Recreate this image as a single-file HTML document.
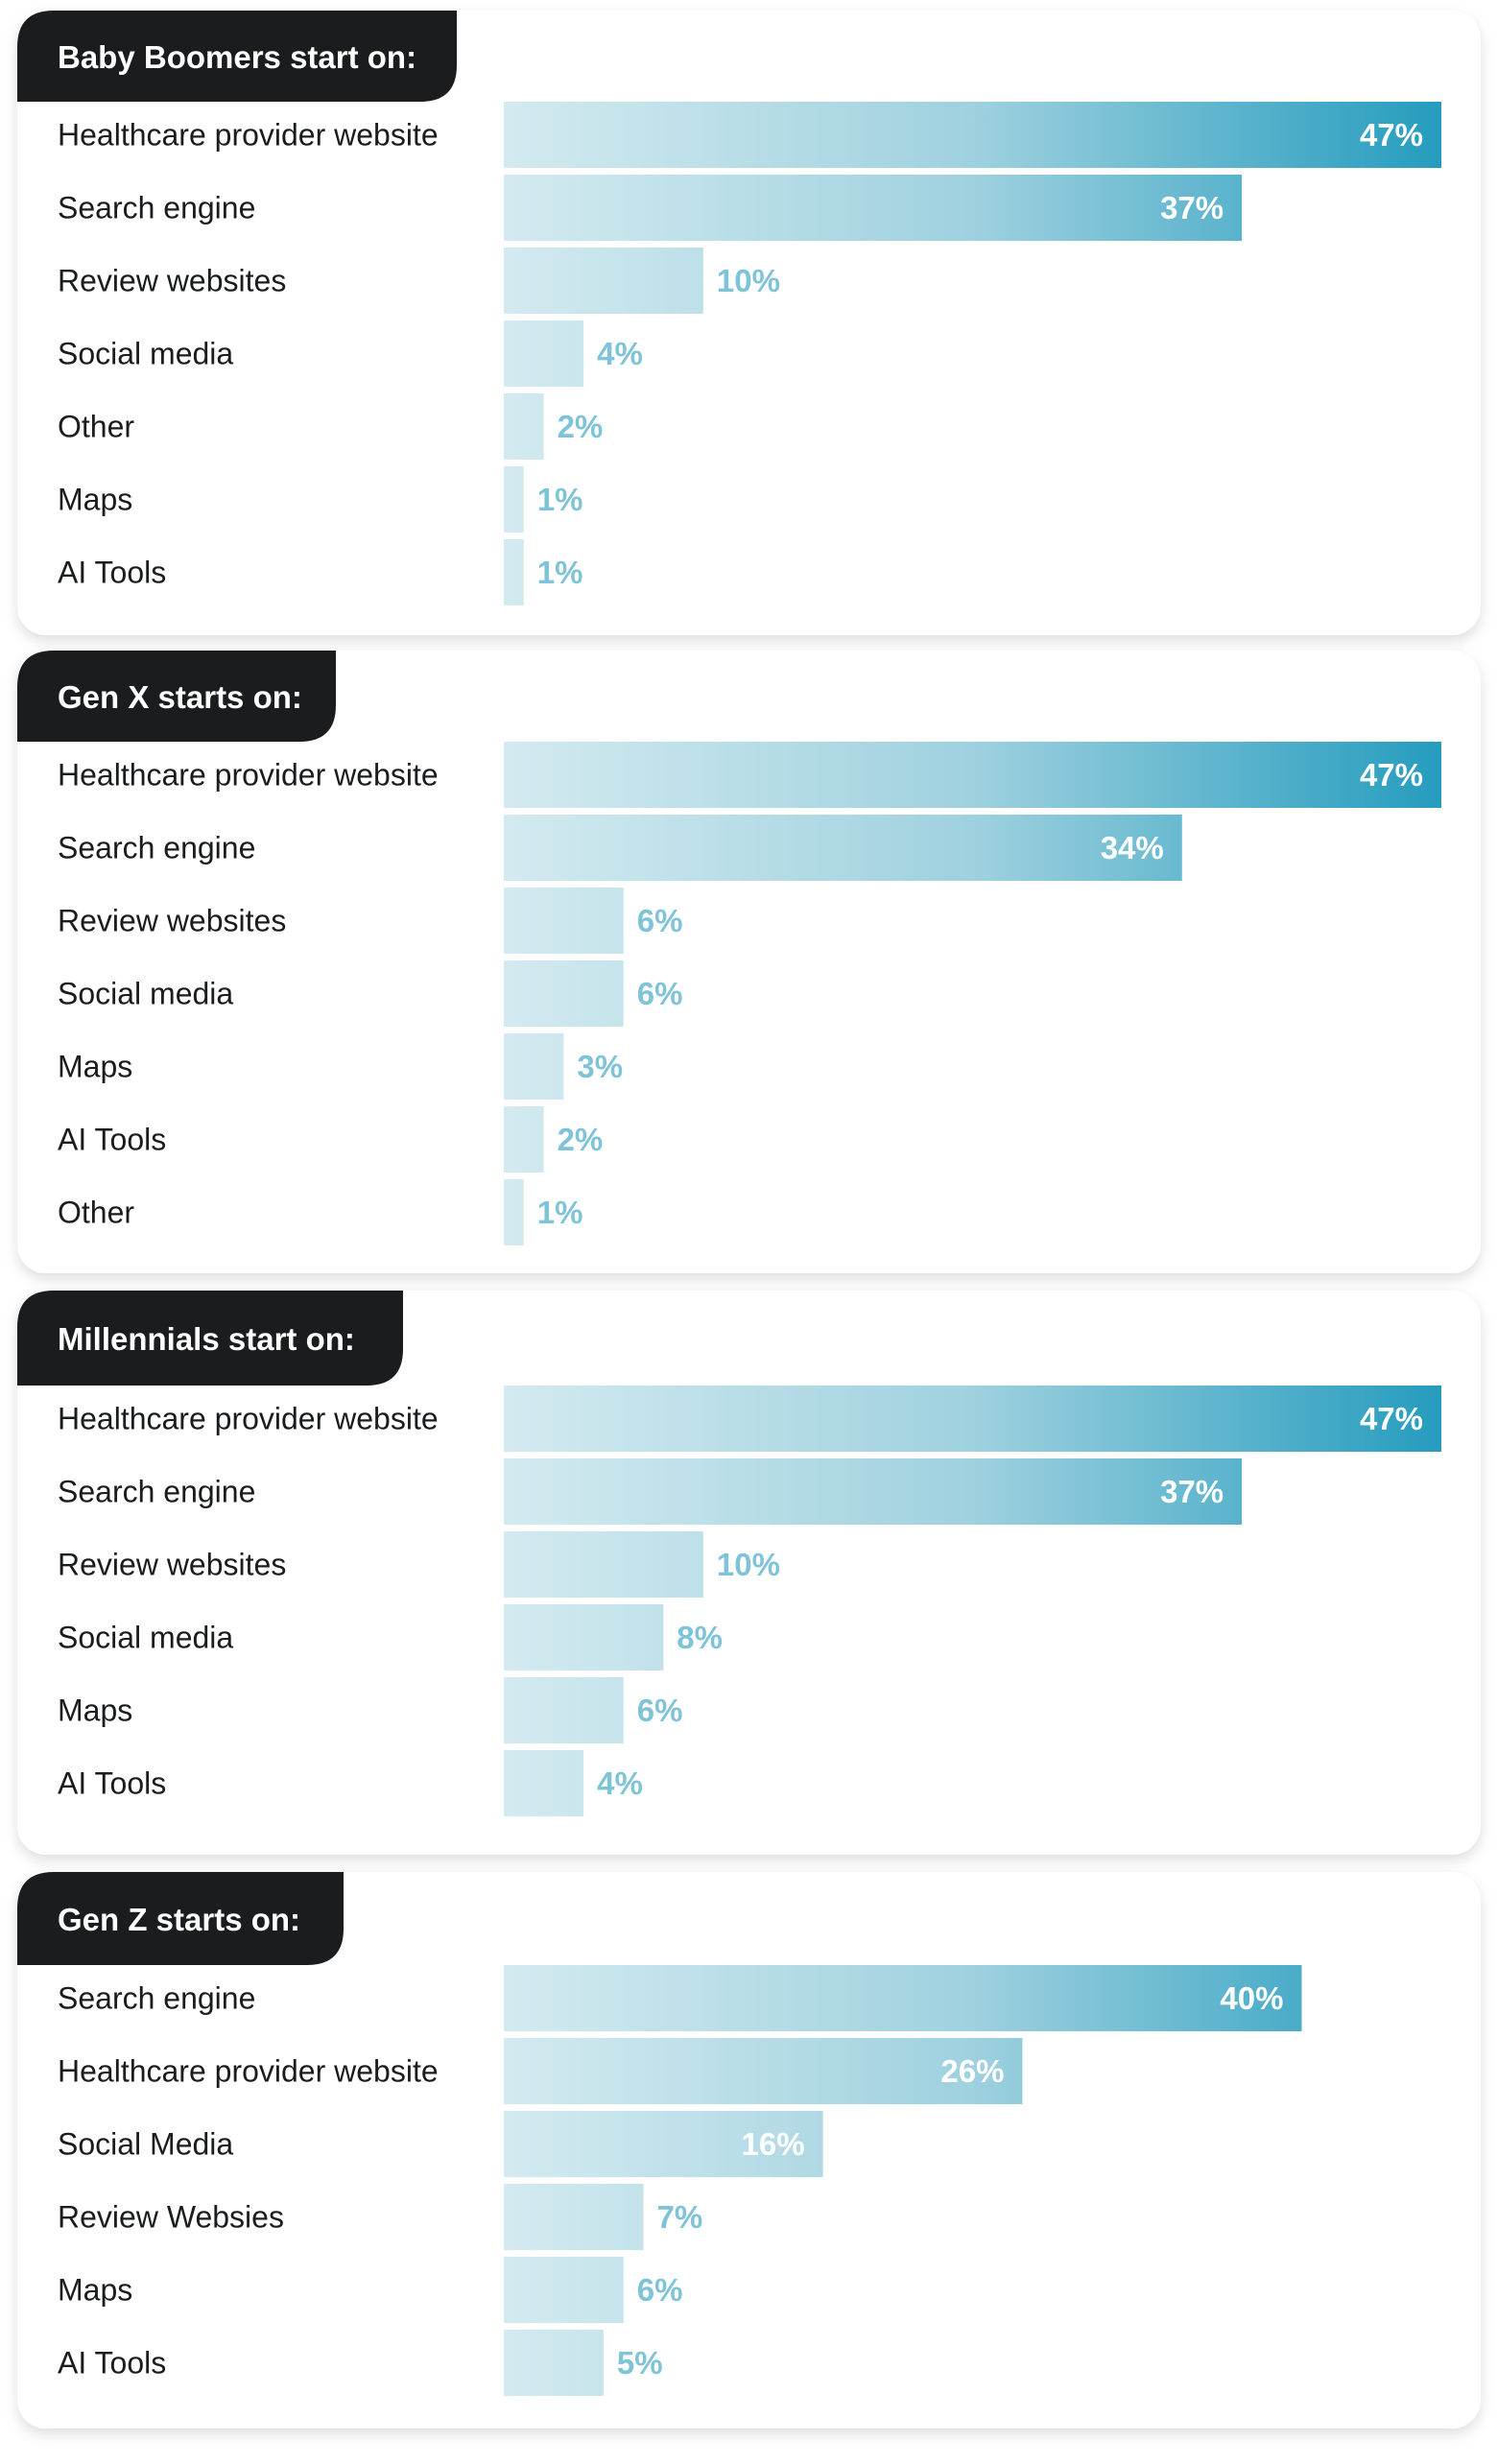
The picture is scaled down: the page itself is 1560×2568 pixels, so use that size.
<!DOCTYPE html>
<html><head><meta charset="utf-8">
<style>
html,body{margin:0;padding:0;background:#fff;}
svg{display:block;font-family:"Liberation Sans",sans-serif;}
</style></head>
<body>
<svg id="chart" width="1560" height="2568" viewBox="0 0 1560 2568" xmlns="http://www.w3.org/2000/svg">
<defs>
<linearGradient id="barGrad" gradientUnits="userSpaceOnUse" x1="525" y1="0" x2="1502" y2="0">
<stop offset="0" stop-color="#d3eaf0"/>
<stop offset="0.5" stop-color="#9fd1df"/>
<stop offset="1" stop-color="#259cbe"/>
</linearGradient>
<filter id="shadow" x="-5%" y="-5%" width="110%" height="115%">
<feDropShadow dx="0" dy="6" stdDeviation="7" flood-color="#000" flood-opacity="0.13"/>
</filter>
</defs>
</svg>
<script>
const titles = ["Baby Boomers start on:", "Gen X starts on:", "Millennials start on:", "Gen Z starts on:"];
const boomerCats = ["Healthcare provider website","Search engine","Review websites","Social media","Other","Maps","AI Tools"];
const boomerVals = [47,37,10,4,2,1,1];
const genxCats = ["Healthcare provider website","Search engine","Review websites","Social media","Maps","AI Tools","Other"];
const genxVals = [47,34,6,6,3,2,1];
const millCats = ["Healthcare provider website","Search engine","Review websites","Social media","Maps","AI Tools"];
const millVals = [47,37,10,8,6,4];
const genzCats = ["Search engine","Healthcare provider website","Social Media","Review Websies","Maps","AI Tools"];
const genzVals = [40,26,16,7,6,5];

const groups = [[boomerCats,boomerVals],[genxCats,genxVals],[millCats,millVals],[genzCats,genzVals]];
const layout = [
  {top:11, bottom:662, hw:476, barTop:106},
  {top:678, bottom:1327, hw:350, barTop:773},
  {top:1345, bottom:1933, hw:420, barTop:1444},
  {top:1951, bottom:2531, hw:358, barTop:2048}
];
const NS="http://www.w3.org/2000/svg";
const svg=document.getElementById('chart');
const x0=525, xMax=47, xEnd=1502;
function xs(v){return x0+(xEnd-x0)*v/xMax;}
function mk(tag,attrs,parent){const e=document.createElementNS(NS,tag);for(const k in attrs)e.setAttribute(k,attrs[k]);(parent||svg).appendChild(e);return e;}

groups.forEach((g,gi)=>{
  const L=layout[gi];
  const grp=mk('g',{});
  
  
  const card=mk('rect',{x:18,y:L.top,width:1525,height:L.bottom-L.top,rx:30,fill:'#fff',filter:'url(#shadow)'},grp);
  
  
  const r=38, hx=18, hy=L.top, hw=L.hw, hb=L.barTop;
  const hdr=mk('path',{d:`M${hx} ${hy+r} Q${hx} ${hy} ${hx+r} ${hy} L${hw} ${hy} L${hw} ${hb-r} Q${hw} ${hb} ${hw-r} ${hb} L${hx} ${hb} Z`,fill:'#1b1c1e'},grp);
  
  
  const t=mk('text',{x:60,y:(hy+hb)/2+1,'dominant-baseline':'central','font-size':33,'font-weight':'bold',fill:'#fff'},grp);
  t.textContent=titles[gi];
  
  
  const cats=g[0], vals=g[1];
  cats.forEach((c,i)=>{
    const y=L.barTop+i*76, h=69, cy=y+h/2;
    const lab=mk('text',{x:60,y:cy,'dominant-baseline':'central','font-size':32,fill:'#1b1c1e'},grp);
    lab.textContent=c;
    
    
    const bar=mk('rect',{x:x0,y:y,width:xs(vals[i])-x0,height:h,fill:'url(#barGrad)'},grp);
    
    
    const inside=vals[i]>=12;
    const vt=mk('text',{x:inside?xs(vals[i])-19:xs(vals[i])+14,y:cy,'dominant-baseline':'central','text-anchor':inside?'end':'start','font-size':33,'font-weight':'bold',fill:inside?'#fff':'#7fc3d8'},grp);
    vt.textContent=vals[i]+'%';
    
    
  });
});
</script>
</body></html>
